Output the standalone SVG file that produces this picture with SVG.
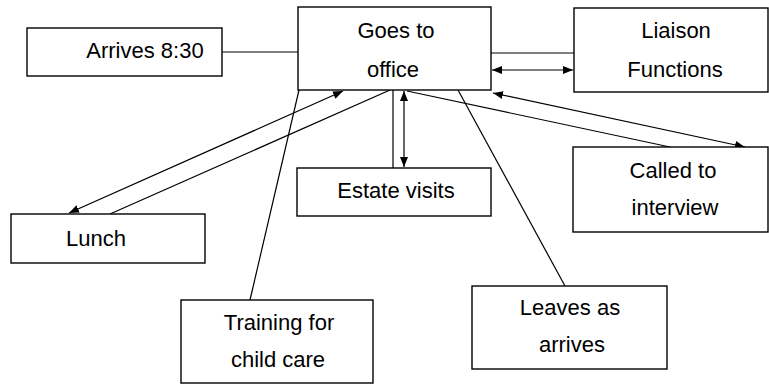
<svg xmlns="http://www.w3.org/2000/svg" width="769" height="384" viewBox="0 0 769 384">
<style>
.box{fill:#fff;stroke:#000;stroke-width:1.4}
.t{font-family:"Liberation Sans",Arial,sans-serif;font-size:22px;fill:#000;text-anchor:middle}
.c{fill:none;stroke:#000;stroke-width:1.2}
</style>
<defs>
<marker id="ah" viewBox="0 0 10 8" refX="10" refY="4" markerWidth="10" markerHeight="8" markerUnits="userSpaceOnUse" orient="auto-start-reverse">
<path d="M0,0 L10,4 L0,8 Z" fill="#000"/>
</marker>
</defs>
<rect width="769" height="384" fill="#fff"/>
<g id="connectors">
<line class="c" x1="222" y1="52" x2="298" y2="52"/>
<line class="c" x1="491" y1="53" x2="574" y2="53"/>
<line class="c" x1="492" y1="70" x2="573" y2="70" marker-start="url(#ah)" marker-end="url(#ah)"/>
<line class="c" x1="393" y1="90" x2="393" y2="168"/>
<line class="c" x1="404" y1="91" x2="404" y2="167" marker-start="url(#ah)" marker-end="url(#ah)"/>
<line class="c" x1="69" y1="213" x2="343" y2="91" marker-start="url(#ah)" marker-end="url(#ah)"/>
<line class="c" x1="110" y1="214" x2="390" y2="90"/>
<line class="c" x1="250" y1="300" x2="299" y2="90"/>
<line class="c" x1="565" y1="286" x2="458" y2="90"/>
<line class="c" x1="407" y1="91" x2="670" y2="147"/>
<line class="c" x1="493" y1="93" x2="745" y2="147" marker-start="url(#ah)" marker-end="url(#ah)"/>
</g>
<g id="arrives"><rect class="box" x="27" y="28" width="195" height="48"/><text class="t" x="145" y="58">Arrives 8:30</text></g>
<g id="office"><rect class="box" x="298" y="7" width="193" height="83"/><text class="t" x="396" y="38">Goes to</text><text class="t" x="393" y="77">office</text></g>
<g id="liaison"><rect class="box" x="574" y="8" width="194" height="84"/><text class="t" x="676" y="38">Liaison</text><text class="t" x="675" y="77">Functions</text></g>
<g id="estate"><rect class="box" x="297" y="168" width="194" height="48"/><text class="t" x="396" y="198">Estate visits</text></g>
<g id="lunch"><rect class="box" x="11" y="214" width="194" height="49"/><text class="t" x="96" y="246">Lunch</text></g>
<g id="interview"><rect class="box" x="573" y="147" width="195" height="85"/><text class="t" x="673" y="178">Called to</text><text class="t" x="675" y="215">interview</text></g>
<g id="training"><rect class="box" x="181" y="300" width="192" height="83"/><text class="t" x="279" y="330">Training for</text><text class="t" x="278" y="367">child care</text></g>
<g id="leaves"><rect class="box" x="472" y="286" width="195" height="83"/><text class="t" x="570" y="315">Leaves as</text><text class="t" x="572" y="352">arrives</text></g>
</svg>
